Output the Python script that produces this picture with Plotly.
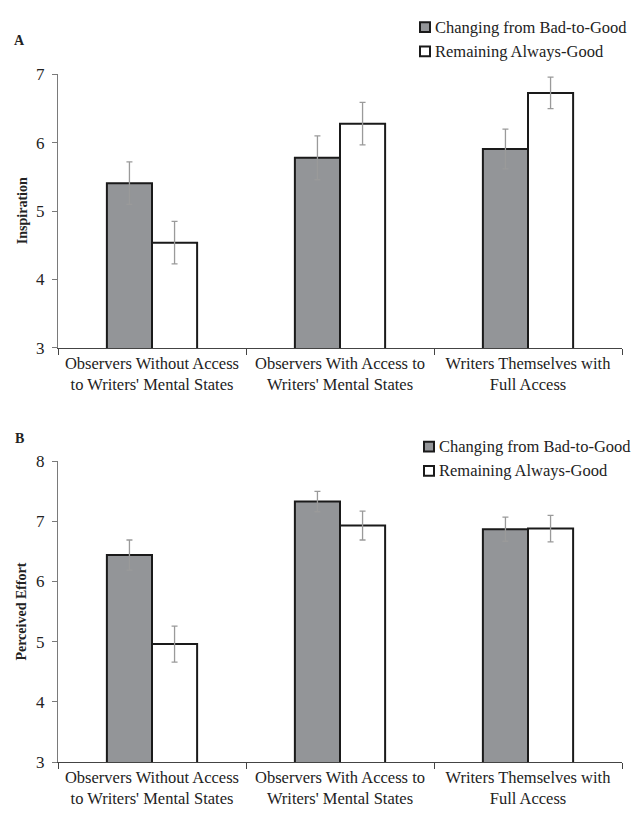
import plotly.graph_objects as go

categories = [
    "Observers Without Access<br>to Writers' Mental States",
    "Observers With Access to<br>Writers' Mental States",
    "Writers Themselves with<br>Full Access",
]
series_names = ["Changing from Bad-to-Good", "Remaining Always-Good"]

# Panel A: inspiration
insp_change = [5.41, 5.78, 5.91]
insp_change_err = [0.31, 0.32, 0.29]
insp_remain = [4.54, 6.28, 6.73]
insp_remain_err = [0.31, 0.31, 0.23]

# Panel B: perceived effort
effort_change = [6.44, 7.33, 6.87]
effort_change_err = [0.25, 0.17, 0.20]
effort_remain = [4.96, 6.93, 6.88]
effort_remain_err = [0.30, 0.24, 0.22]

W, H = 635, 815
FONT = "Liberation Serif"
TEXT = "#222222"
GRAY_FILL = "#939598"
OUTLINE = "#1a1a1a"
ERR_COLOR = "#9a9a9a"
FILLS = [GRAY_FILL, "white"]


def py(px):
    return 1 - px / H


def px_x(px):
    return px / W


fig = go.Figure()

panels = [
    ("x", "y", [insp_change, insp_remain], [insp_change_err, insp_remain_err]),
    ("x2", "y2", [effort_change, effort_remain], [effort_change_err, effort_remain_err]),
]
for xa, ya, vals_list, errs_list in panels:
    for name, vals, errs, fill in zip(series_names, vals_list, errs_list, FILLS):
        fig.add_trace(go.Bar(
            x=categories, y=vals, name=name, xaxis=xa, yaxis=ya,
            showlegend=False,
            marker=dict(color=fill, line=dict(color=OUTLINE, width=2)),
            error_y=dict(type="data", array=errs, visible=True,
                         color=ERR_COLOR, thickness=1.3, width=3),
        ))

xcommon = dict(
    type="category", showline=True, linecolor="#444", linewidth=1.3,
    ticks="outside", tickson="boundaries", ticklen=6, tickcolor="#444",
    tickfont=dict(family=FONT, size=16.5, color=TEXT),
    showgrid=False, zeroline=False,
    domain=[px_x(58), px_x(622)], fixedrange=True,
)
ycommon = dict(
    showline=True, linecolor="#7a7a7a", linewidth=1.3, ticks="outside",
    ticklen=5, tickcolor="#7a7a7a",
    tickfont=dict(family=FONT, size=17, color=TEXT),
    showgrid=False, zeroline=False, dtick=1, ticklabelstandoff=4,
)

fig.update_layout(
    width=W, height=H, margin=dict(l=0, r=0, t=0, b=0),
    paper_bgcolor="white", plot_bgcolor="white",
    barmode="group", bargap=0.52, bargroupgap=0,
    font=dict(family=FONT, color=TEXT),
    showlegend=False,
    xaxis=dict(**xcommon, anchor="y"),
    xaxis2=dict(**xcommon, anchor="y2"),
    yaxis=dict(**ycommon, range=[3, 7], domain=[py(347), py(67)], anchor="x"),
    yaxis2=dict(**ycommon, range=[3, 8], domain=[py(771), py(463)], anchor="x2"),
)

annotations = [
    dict(text="<b>A</b>", x=px_x(12), y=py(32), xanchor="left", yanchor="middle",
         font=dict(family=FONT, size=14, color=TEXT)),
    dict(text="<b>B</b>", x=px_x(13), y=py(440), xanchor="left", yanchor="middle",
         font=dict(family=FONT, size=14, color=TEXT)),
    dict(text="<b>Inspiration</b>", x=px_x(22), y=py(207), textangle=-90,
         xanchor="center", yanchor="middle", font=dict(family=FONT, size=14, color=TEXT)),
    dict(text="<b>Perceived Effort</b>", x=px_x(22), y=py(617), textangle=-90,
         xanchor="center", yanchor="middle", font=dict(family=FONT, size=14, color=TEXT)),
]

# Legend keys for each panel: (left edge of key square, centre of first row)
shapes = []
for key_x, row_y in [(420, 18.5), (424, 448)]:
    for i, (name, fill) in enumerate(zip(series_names, FILLS)):
        cy = row_y + 25 * i
        shapes.append(dict(
            type="rect", xref="paper", yref="paper",
            x0=px_x(key_x), x1=px_x(key_x + 10),
            y0=py(cy + 5), y1=py(cy - 5),
            fillcolor=fill, line=dict(color=OUTLINE, width=2),
        ))
        annotations.append(dict(
            text=name, x=px_x(key_x + 13), y=py(cy), xanchor="left",
            yanchor="middle", font=dict(family=FONT, size=16.5, color=TEXT),
        ))

for a in annotations:
    a.update(xref="paper", yref="paper", showarrow=False)
fig.update_layout(annotations=annotations, shapes=shapes)

fig.write_html("out.html")
